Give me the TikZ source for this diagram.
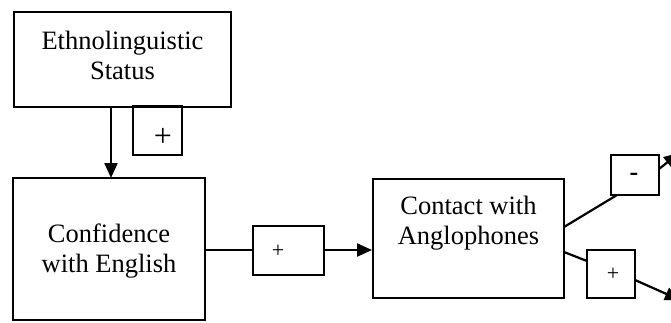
\documentclass[tikz,border=0pt]{standalone}
\usepackage{fontspec}
\setmainfont{Liberation Serif}
\usetikzlibrary{arrows.meta}
\begin{document}
\begin{tikzpicture}[x=1pt,y=-1pt,
  box/.style={draw=black,line width=2pt,inner sep=0pt},
  signbox/.style={draw=black,line width=2pt,inner sep=0pt},
  lbl/.style={align=center,inner sep=0pt,font=\fontsize{26.5}{30}\selectfont},
  sign/.style={inner sep=0pt,font=\fontsize{22}{22}\selectfont},
  conn/.style={line width=2.2pt},
  arr/.style={conn,-{Triangle[length=15pt,width=13pt]}}]
\useasboundingbox (0,0) rectangle (671,322);
\clip (0,0) rectangle (671,322);
% boxes
\node[box,minimum width=217pt,minimum height=95pt] (eth) at (122.5,59.5) {};
\node[lbl] (ethT) at (122.5,55) {Ethnolinguistic\\Status};
\node[box,minimum width=192pt,minimum height=142pt] (conf) at (109,249) {};
\node[lbl] (confT) at (109,251) {Confidence\\with English};
\node[box,minimum width=191pt,minimum height=119pt] (cont) at (468.5,238.5) {};
\node[lbl] (contT) at (468.5,223) {Contact with\\Anglophones};
% sign boxes
\node[signbox,minimum width=49pt,minimum height=49pt] (p1) at (157.5,130.5) {};
\node[sign,font=\fontsize{32}{32}\selectfont] (p1T) at (163,137) {+};
\node[signbox,minimum width=71pt,minimum height=49pt] (p2) at (288,250) {};
\node[sign] (p2T) at (278,251) {+};
\node[signbox,minimum width=48pt,minimum height=40pt] (m3) at (635,175) {};
\node[sign,font=\fontsize{26}{26}\selectfont\bfseries] (m3T) at (634,177) {-};
\node[signbox,minimum width=48pt,minimum height=48pt] (p4) at (611,274) {};
\node[sign] (p4T) at (613,274) {+};
% connectors
\coordinate (a1) at (111,107);
\coordinate (a1e) at (111,178);
\draw[arr] (a1) -- (a1e);
\draw[conn] (conf.east |- p2.west) -- (p2.west);
\draw[arr] (p2.east) -- (p2.east -| cont.west);
\coordinate (c1) at (564,227);
\coordinate (m3in) at (617,195);
\draw[conn] (c1) -- (m3in);
\coordinate (m3out) at (659,169);
\coordinate (up) at (679,153);
\draw[arr] (m3out) -- (up);
\coordinate (c2) at (564,252);
\coordinate (p4in) at (587,261);
\draw[conn] (c2) -- (p4in);
\coordinate (p4out) at (635,280);
\coordinate (dn) at (680,300);
\draw[arr] (p4out) -- (dn);
\end{tikzpicture}
\end{document}
